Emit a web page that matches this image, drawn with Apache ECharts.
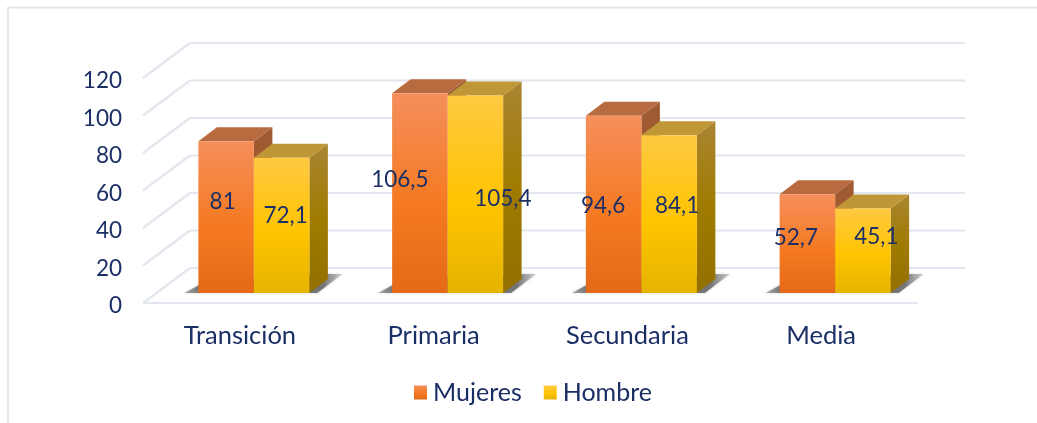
<!DOCTYPE html>
<html><head><meta charset="utf-8">
<style>html,body{margin:0;padding:0;background:#fff}#c{width:1037px;height:423px}</style>
<script src="https://cdn.jsdelivr.net/npm/echarts@6/dist/echarts.min.js"></script>
</head><body><div id="c"></div>
<script>
const categories = ['Transición', 'Primaria', 'Secundaria', 'Media'];
const mujeres = [81, 106.5, 94.6, 52.7];
const hombre = [72.1, 105.4, 84.1, 45.1];
const valueLabelsM = ['81', '106,5', '94,6', '52,7'];
const valueLabelsH = ['72,1', '105,4', '84,1', '45,1'];
const ticks = [0, 20, 40, 60, 80, 100, 120];

const nudgeM = [[-3.5, -15], [-20, -13], [-10.5, 1.5], [-11.5, -5.5]];
const nudgeH = [[4, -9.5], [27.5, 5], [8, -8], [13.5, -13.5]];
const INK = '#1b2f66';
const FONT = 'Lato, "Open Sans", sans-serif';
const GRID = '#e3e6ee';
const WALL_DX = 47, WALL_DY = -35;      // depth of the floor
const BAR_DX = 14, BAR_DY = -10;        // where bars stand on the floor
const SIDE_DX = 18.5, SIDE_DY = -14;    // depth of a bar
const BAR_W = 55.5;

const vGrad = (stops) => ({type: 'linear', x: 0, y: 0, x2: 0, y2: 1,
  colorStops: stops.map(s => ({offset: s[0], color: s[1]}))});
const orange = {
  front: vGrad([[0, '#f58f5c'], [0.55, '#f57a22'], [1, '#e46a17']]),
  top: '#b96b40', side: '#a05a32'};
const yellow = {
  front: vGrad([[0, '#ffc942'], [0.55, '#ffc400'], [1, '#e5b400']]),
  top: '#c09737', side: vGrad([[0, '#a98533'], [0.5, '#a07b00'], [1, '#937000']])};

function barSeries(name, values, labels, nudge, pal, slot, z) {
  return {
    name, type: 'custom', z, coordinateSystem: 'cartesian2d',
    itemStyle: {color: pal.front},
    encode: {x: 0, y: 1},
    data: values.map((v, i) => [i, v]),
    renderItem(params, api) {
      const i = api.value(0);
      const b = api.coord([i, 0]), t = api.coord([i, api.value(1)]);
      const x0 = b[0] + BAR_DX + slot * BAR_W, x1 = x0 + BAR_W;
      const yb = b[1] + BAR_DY, yt = t[1] + BAR_DY;
      return {type: 'group', children: [
        {type: 'polygon', shape: {points: [[x1, yt], [x1 + SIDE_DX, yt + SIDE_DY], [x1 + SIDE_DX, yb + SIDE_DY], [x1, yb]]}, style: {fill: pal.side}},
        {type: 'polygon', shape: {points: [[x0, yt], [x0 + SIDE_DX, yt + SIDE_DY], [x1 + SIDE_DX, yt + SIDE_DY], [x1, yt]]}, style: {fill: pal.top}},
        {type: 'rect', shape: {x: x0, y: yt, width: BAR_W, height: yb - yt}, style: {fill: pal.front}},
        {type: 'text', z2: 50, style: {
          text: labels[i], x: (x0 + x1) / 2 + nudge[i][0], y: (yb + yt) / 2 + nudge[i][1],
          align: 'center', verticalAlign: 'middle', fill: INK, font: '22.5px ' + FONT}}
      ]};
    }
  };
}

const option = {
  animation: false,
  backgroundColor: '#fff',
  grid: {left: 143, right: 119, top: 78, bottom: 120},
  xAxis: {type: 'category', data: categories,
    axisLine: {show: false}, axisTick: {show: false}, splitLine: {show: false},
    axisLabel: {color: INK, fontFamily: FONT, fontSize: 25.5, margin: 20}},
  yAxis: {type: 'value', min: 0, max: 120, interval: 20,
    axisLine: {show: false}, axisTick: {show: false}, splitLine: {show: false},
    axisLabel: {margin: 21, formatter: '{a|{value}}',
      rich: {a: {color: INK, fontFamily: FONT, fontSize: 22.5, padding: [6, 0, 0, 0]}}}},
  legend: {show: true, data: ['Mujeres', 'Hombre'], left: 409, top: 375, icon: 'rect',
    itemWidth: 13, itemHeight: 14, itemGap: 22,
    textStyle: {color: INK, fontFamily: FONT, fontSize: 25, padding: [0, 0, 0, 1]}},
  graphic: [
    {type: 'line', silent: true, shape: {x1: 8, y1: 7.5, x2: 1037, y2: 7.5}, style: {stroke: GRID, lineWidth: 2}},
    {type: 'line', silent: true, shape: {x1: 8, y1: 7, x2: 8, y2: 423}, style: {stroke: GRID, lineWidth: 2}}
  ],
  series: [
    {name: 'walls', type: 'custom', z: 1, silent: true, encode: {y: 0},
      data: ticks.map(t => [t]),
      renderItem(params, api) {
        const v = api.value(0);
        const p = api.coord([0, v]);
        const left = params.coordSys.x, right = left + params.coordSys.width;
        const line = {stroke: GRID, lineWidth: 2.2};
        const kids = [
          {type: 'line', shape: {x1: left, y1: p[1], x2: left + WALL_DX, y2: p[1] + WALL_DY}, style: line},
          {type: 'line', shape: {x1: left + WALL_DX, y1: p[1] + WALL_DY, x2: right + WALL_DX, y2: p[1] + WALL_DY}, style: line}
        ];
        if (v === 0) kids.push({type: 'line', shape: {x1: left, y1: p[1], x2: right, y2: p[1]}, style: line});
        return {type: 'group', children: kids};
      }},
    {name: 'shadow', type: 'custom', z: 2, silent: true, encode: {x: 0},
      data: categories.map((c, i) => [i]),
      renderItem(params, api) {
        const b = api.coord([api.value(0), 0]);
        const x0 = b[0] + BAR_DX - BAR_W, x1 = x0 + 2 * BAR_W;
        const y = b[1] + BAR_DY;
        return {type: 'polygon',
          shape: {points: [[x0 - 14, y], [x0 + 8, y - 12], [x1 + 19, y - 19], [x1 + 33, y - 19], [x1 + 8, y]]},
          style: {fill: {type: 'linear', x: 0, y: 0, x2: 1, y2: 0, colorStops: [
            {offset: 0, color: 'rgba(120,120,120,0.6)'}, {offset: 0.1, color: 'rgba(100,100,100,0.85)'}, {offset: 0.88, color: 'rgba(100,100,100,0.85)'}, {offset: 1, color: 'rgba(170,170,170,0.5)'}]},
            shadowBlur: 3, shadowColor: 'rgba(120,120,120,0.4)'}};
      }},
    barSeries('Mujeres', mujeres, valueLabelsM, nudgeM, orange, -1, 3),
    barSeries('Hombre', hombre, valueLabelsH, nudgeH, yellow, 0, 4)
  ]
};
echarts.init(document.getElementById('c'), null, {renderer: 'canvas'}).setOption(option);
</script></body></html>
